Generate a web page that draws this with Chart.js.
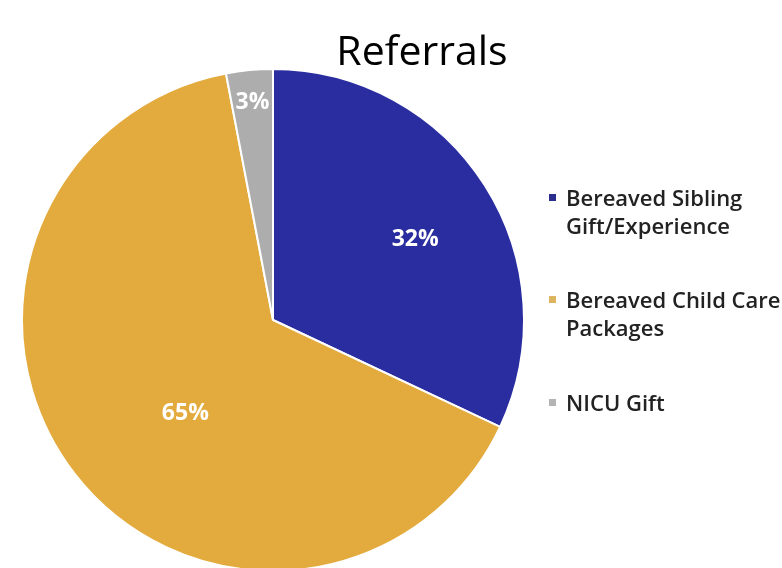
<!DOCTYPE html>
<html>
<head>
<meta charset="utf-8">
<script src="https://cdn.jsdelivr.net/npm/chart.js@4.4.1/dist/chart.umd.min.js"></script>
<style>
  html, body { margin: 0; padding: 0; background: #fff; }
  #wrap { width: 782px; height: 568px; }
</style>
</head>
<body>
<div id="wrap"><canvas id="pie" width="782" height="568"></canvas></div>
<script>
const chartTitle = "Referrals";
const categories = [
  ["Bereaved Sibling", "Gift/Experience"],
  ["Bereaved Child Care", "Packages"],
  ["NICU Gift"]
];
const shares = [32, 65, 3];
const sliceColors = ["#2A2DA0", "#E3AB3D", "#ADADAD"];
const markerColors = ["#2B2E8C", "#DDB560", "#B4B4B4"];

// label placement per slice: fraction of radius, angle nudge (deg)
const labelDist = [0.65, 0.51, 0.87];
const labelNudge = [3, -9, 0];

const font = "'Open Sans', Lato, sans-serif";

const extras = {
  id: "extras",
  afterDatasetsDraw(chart) {
    const ctx = chart.ctx;
    const meta = chart.getDatasetMeta(0);
    ctx.save();

    // values inside slices
    ctx.fillStyle = "#fff";
    ctx.font = "bold 23px " + font;
    ctx.textAlign = "center";
    ctx.textBaseline = "middle";
    meta.data.forEach((arc, i) => {
      const p = arc.getProps(["x", "y", "startAngle", "endAngle", "outerRadius"], true);
      const mid = (p.startAngle + p.endAngle) / 2 + labelNudge[i] * Math.PI / 180;
      const d = p.outerRadius * labelDist[i];
      ctx.fillText(shares[i] + "%", p.x + Math.cos(mid) * d, p.y + Math.sin(mid) * d);
    });

    // title
    ctx.fillStyle = "#000";
    ctx.font = "41px " + font;
    ctx.textBaseline = "alphabetic";
    ctx.fillText(chartTitle, 422, 65);

    // legend
    ctx.textAlign = "left";
    ctx.font = "600 22px " + font;
    const top = [206, 308, 411];
    categories.forEach((lines, i) => {
      ctx.fillStyle = markerColors[i];
      ctx.fillRect(549, top[i] - 12, 7, 7);
      ctx.fillStyle = "#222";
      lines.forEach((t, j) => ctx.fillText(t, 566, top[i] + j * 28));
    });
    ctx.restore();
  }
};

new Chart(document.getElementById("pie"), {
  type: "pie",
  data: {
    labels: categories,
    datasets: [{
      data: shares,
      backgroundColor: sliceColors,
      borderColor: "#fff",
      borderWidth: 2
    }]
  },
  options: {
    responsive: false,
    animation: false,
    radius: 251,
    layout: { padding: { left: 21, right: 257, top: 72, bottom: 0 } },
    plugins: {
      legend: { display: false },
      title: { display: false },
      tooltip: { enabled: false }
    }
  },
  plugins: [extras]
});
</script>
</body>
</html>
